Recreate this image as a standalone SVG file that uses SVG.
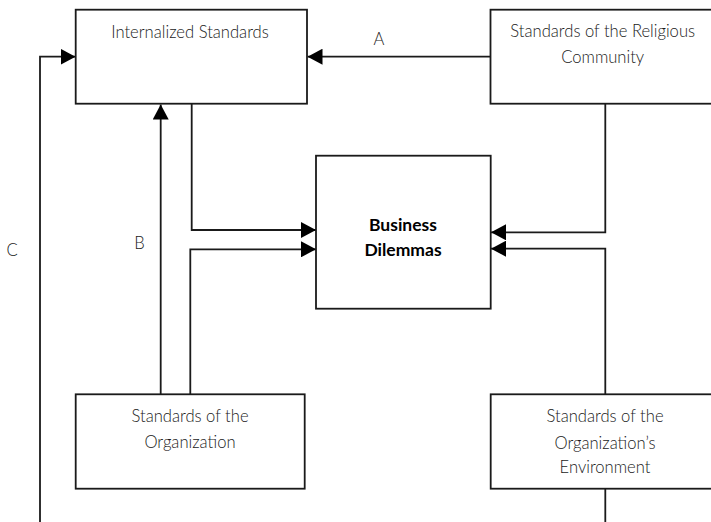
<svg xmlns="http://www.w3.org/2000/svg" width="711" height="522" viewBox="0 0 711 522">
<style>
.box{fill:#fff;stroke:#1a1a1a;stroke-width:1.8}
.con{fill:none;stroke:#1a1a1a;stroke-width:1.8}
.t{font-family:Lato,"Open Sans","Liberation Sans",sans-serif;font-size:16.6px;fill:#1a1a1a;text-anchor:middle;font-weight:300}
.b{font-family:Lato,"Open Sans","Liberation Sans",sans-serif;font-size:17.5px;fill:#000;text-anchor:middle;font-weight:700}
</style>
<defs>
<marker id="ah" markerUnits="userSpaceOnUse" markerWidth="15" markerHeight="16" refX="15" refY="8" orient="auto">
<path d="M0,0 L15,8 L0,16 z" fill="#000"/>
</marker>
</defs>
<g id="connectors">
<path class="con" d="M490,56.7 H307.5" marker-end="url(#ah)"/>
<path class="con" d="M605.3,103.7 V232.3 H491" marker-end="url(#ah)"/>
<path class="con" d="M605.3,394.3 V248.7 H491" marker-end="url(#ah)"/>
<path class="con" d="M605.3,488.7 V522"/>
<path class="con" d="M191.7,103.7 V230 H316" marker-end="url(#ah)"/>
<path class="con" d="M190.3,394.3 V249.3 H316" marker-end="url(#ah)"/>
<path class="con" d="M160.7,394.3 V104.5" marker-end="url(#ah)"/>
<path class="con" d="M40,522 V56.7 H75.5" marker-end="url(#ah)"/>
<text class="t" x="379" y="45">A</text>
<text class="t" x="139.5" y="249">B</text>
<text class="t" x="12" y="256">C</text>
</g>
<g id="internalized">
<rect class="box" x="75.7" y="9.7" width="231.3" height="94"/>
<text class="t" x="190" y="37.5">Internalized Standards</text>
</g>
<g id="religious">
<rect class="box" x="490.5" y="9.7" width="240" height="94"/>
<text class="t" x="602.7" y="37">Standards of the Religious</text>
<text class="t" x="602.7" y="62.5">Community</text>
</g>
<g id="dilemmas">
<rect class="box" x="316" y="155.7" width="174.7" height="153"/>
<text class="b" x="403" y="231">Business</text>
<text class="b" x="403" y="255.5">Dilemmas</text>
</g>
<g id="organization">
<rect class="box" x="75.7" y="394.3" width="229" height="94.4"/>
<text class="t" x="190" y="422">Standards of the</text>
<text class="t" x="190" y="448">Organization</text>
</g>
<g id="environment">
<rect class="box" x="490.7" y="394.3" width="240" height="94.4"/>
<text class="t" x="605" y="422">Standards of the</text>
<text class="t" x="605" y="448.5">Organization’s</text>
<text class="t" x="605" y="473">Environment</text>
</g>
</svg>
